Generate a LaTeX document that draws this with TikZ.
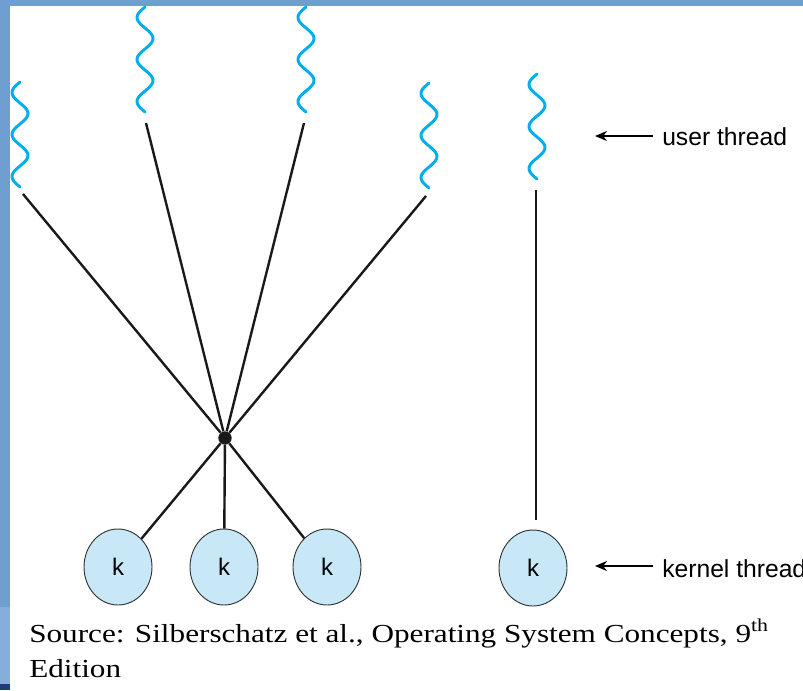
\documentclass[tikz,border=0pt]{standalone}
\usepackage{fontspec}
\setmainfont{Liberation Serif}
\setsansfont{Liberation Sans}
\usetikzlibrary{arrows.meta,shapes.geometric}

\definecolor{slideblue}{HTML}{6F9FD1}
\definecolor{slidelight}{HTML}{86AEDA}
\definecolor{slidedark}{HTML}{1F3C78}
\definecolor{wavecyan}{HTML}{00AEEF}
\definecolor{kfill}{HTML}{C8E8F8}

\begin{document}
\begin{tikzpicture}[x=0.75pt, y=-0.75pt,
    wave/.style={wavecyan, line width=2.2pt, line cap=round, line join=round},
    link/.style={line width=1.8pt, black!90},
    kthread/.style={ellipse, draw=black!80, line width=0.7pt, fill=kfill,
        minimum width=51pt, minimum height=57pt, inner sep=0pt,
        font=\sffamily\fontsize{18}{20}\selectfont},
    hub/.style={circle, fill=black!90, minimum size=10pt, inner sep=0pt},
    pointer/.style={line width=1.5pt, -{Stealth[length=9pt, width=7.5pt]}},
    note/.style={anchor=base west, inner sep=0pt,
        font=\sffamily\fontsize{18.5}{20}\selectfont},
    source/.style={anchor=base west, inner sep=0pt,
        font=\fontsize{19.5}{24}\selectfont}
]

    \clip (0,0) rectangle (803,690);

    % Rahmen der Folie
    \fill[slideblue] (0,0) rectangle (803,6);
    \fill[slideblue] (0,0) rectangle (10,607);
    \fill[slidelight] (0,607) rectangle (10,684);
    \fill[slidedark] (0,684) rectangle (10,690);

    % Benutzer-Threads (Wellen)
    \foreach \cx/\ty in {20/82, 145/7, 306/7, 429/83, 537/74} {
        \draw[wave] plot[variable=\t, domain=0:105, samples=71, smooth]
            ({\cx-8*sin(8.5714*\t)}, {\ty+\t});
    }
    \coordinate (u1) at (23,194);
    \coordinate (u2) at (146,123);
    \coordinate (u3) at (304,123);
    \coordinate (u4) at (426,196);
    \coordinate (u5) at (536,190);

    % Kernel-Threads
    \node[hub] (hub) at (225,438) {};
    \node[kthread] (k1) at (118,567) {k};
    \node[kthread] (k2) at (224,567) {k};
    \node[kthread] (k3) at (327,567) {k};
    \node[kthread] (k4) at (533,568) {k};

    % Verbindungen
    \foreach \i in {1,...,4} {
        \draw[link] (u\i) -- (hub);
    }
    \foreach \i in {1,2,3} {
        \draw[link] (hub) -- (k\i);
    }
    \draw[link, shorten >=7pt] (u5) -- (u5 |- k4.north);

    % Beschriftungen
    \node[note] (ut) at (662,145) {user thread};
    \node[note] (kt) at (662,577) {kernel thread};
    \coordinate (utip) at (595,136);
    \coordinate (ktip) at (595,566);
    \draw[pointer] ([xshift=-6.75pt]ut.west |- utip) -- (utip);
    \draw[pointer] ([xshift=-6.75pt]kt.west |- ktip) -- (ktip);

    % Quelle
    \node[source] (src) at (29,642)
        {\scalebox{1.2}[1]{Source: Silberschatz et al., Operating System Concepts, 9\textsuperscript{th}}};
    \node[source] (ed) at (29,677) {\scalebox{1.2}[1]{Edition}};

\end{tikzpicture}
\end{document}
